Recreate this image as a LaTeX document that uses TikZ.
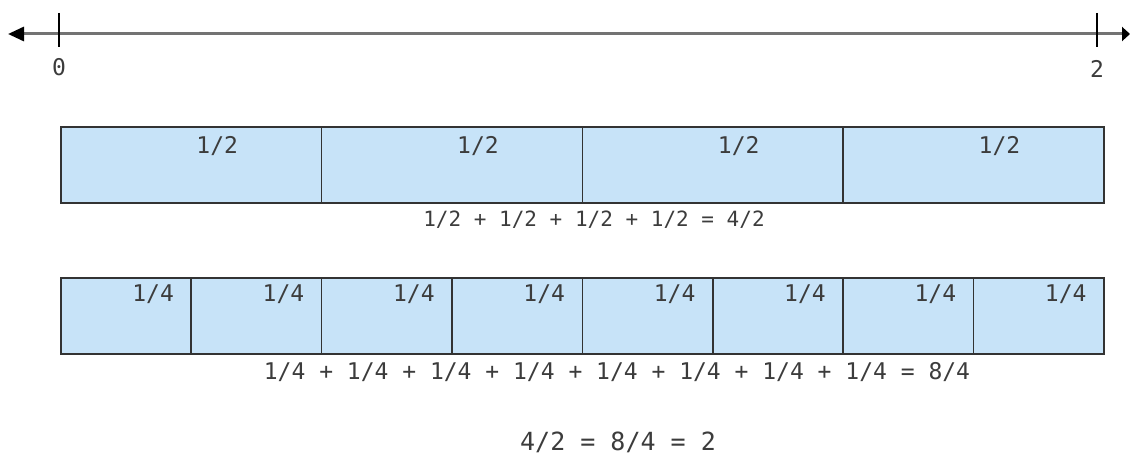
\documentclass[tikz,border=0pt]{standalone}
\usepackage{fontspec}
\setmainfont{DejaVu Sans Mono}
\usetikzlibrary{arrows.meta}
\definecolor{barblue}{RGB}{199,227,248}
\definecolor{inkgray}{RGB}{60,60,60}
\tikzset{
  cell/.style={draw=black!80, line width=1.7pt, fill=barblue, minimum height=76pt,
    inner sep=0pt, anchor=north west},
  fraclabel/.style={font=\fontsize{23}{23}\selectfont, text=inkgray, inner sep=0pt},
  sumline/.style={font=\fontsize{21}{21}\selectfont, text=inkgray, inner sep=0pt},
}

\begin{document}
\begin{tikzpicture}[x=1pt,y=-1pt]
  \useasboundingbox (0,0) rectangle (1130,457);

  % number line
  \coordinate (lineL) at (8,34);
  \coordinate (lineR) at (1130,34);
  \draw[black!55, line width=3pt,
    {Triangle[black,length=16pt,width=14pt]}-{Triangle[black,length=8pt,width=14pt]}]
    (lineL) -- (lineR);
  \draw[line width=2.2pt] (59,13) -- (59,47);
  \draw[line width=2.2pt] (1097,13) -- (1097,47);
  \node[fraclabel] (zero) at (59,67) {0};
  \node[fraclabel] (two) at (1097,69) {2};

  % halves
  \foreach \i in {0,...,3} {
    \node[cell, minimum width=260.75pt] (h\i) at (60+260.75*\i,126) {};
    \node[fraclabel] (hl\i) at ([xshift=26pt,yshift=-20pt]h\i.north) {1/2};
  }
  \node[sumline] (halfsum) at (594,220) {1/2 + 1/2 + 1/2 + 1/2 = 4/2};

  % quarters
  \foreach \i in {0,...,7} {
    \node[cell, minimum width=130.375pt] (q\i) at (60+130.375*\i,277) {};
    \node[fraclabel, anchor=east] (ql\i) at ([xshift=-18pt,yshift=-17pt]q\i.north east) {1/4};
  }
  \node[sumline, font=\fontsize{23}{23}\selectfont] (quartersum) at (617,372)
    {1/4 + 1/4 + 1/4 + 1/4 + 1/4 + 1/4 + 1/4 + 1/4 = 8/4};

  % result
  \node[sumline, font=\fontsize{25}{25}\selectfont] (result) at (618,442)
    {4/2 = 8/4 = 2};
\end{tikzpicture}
\end{document}
